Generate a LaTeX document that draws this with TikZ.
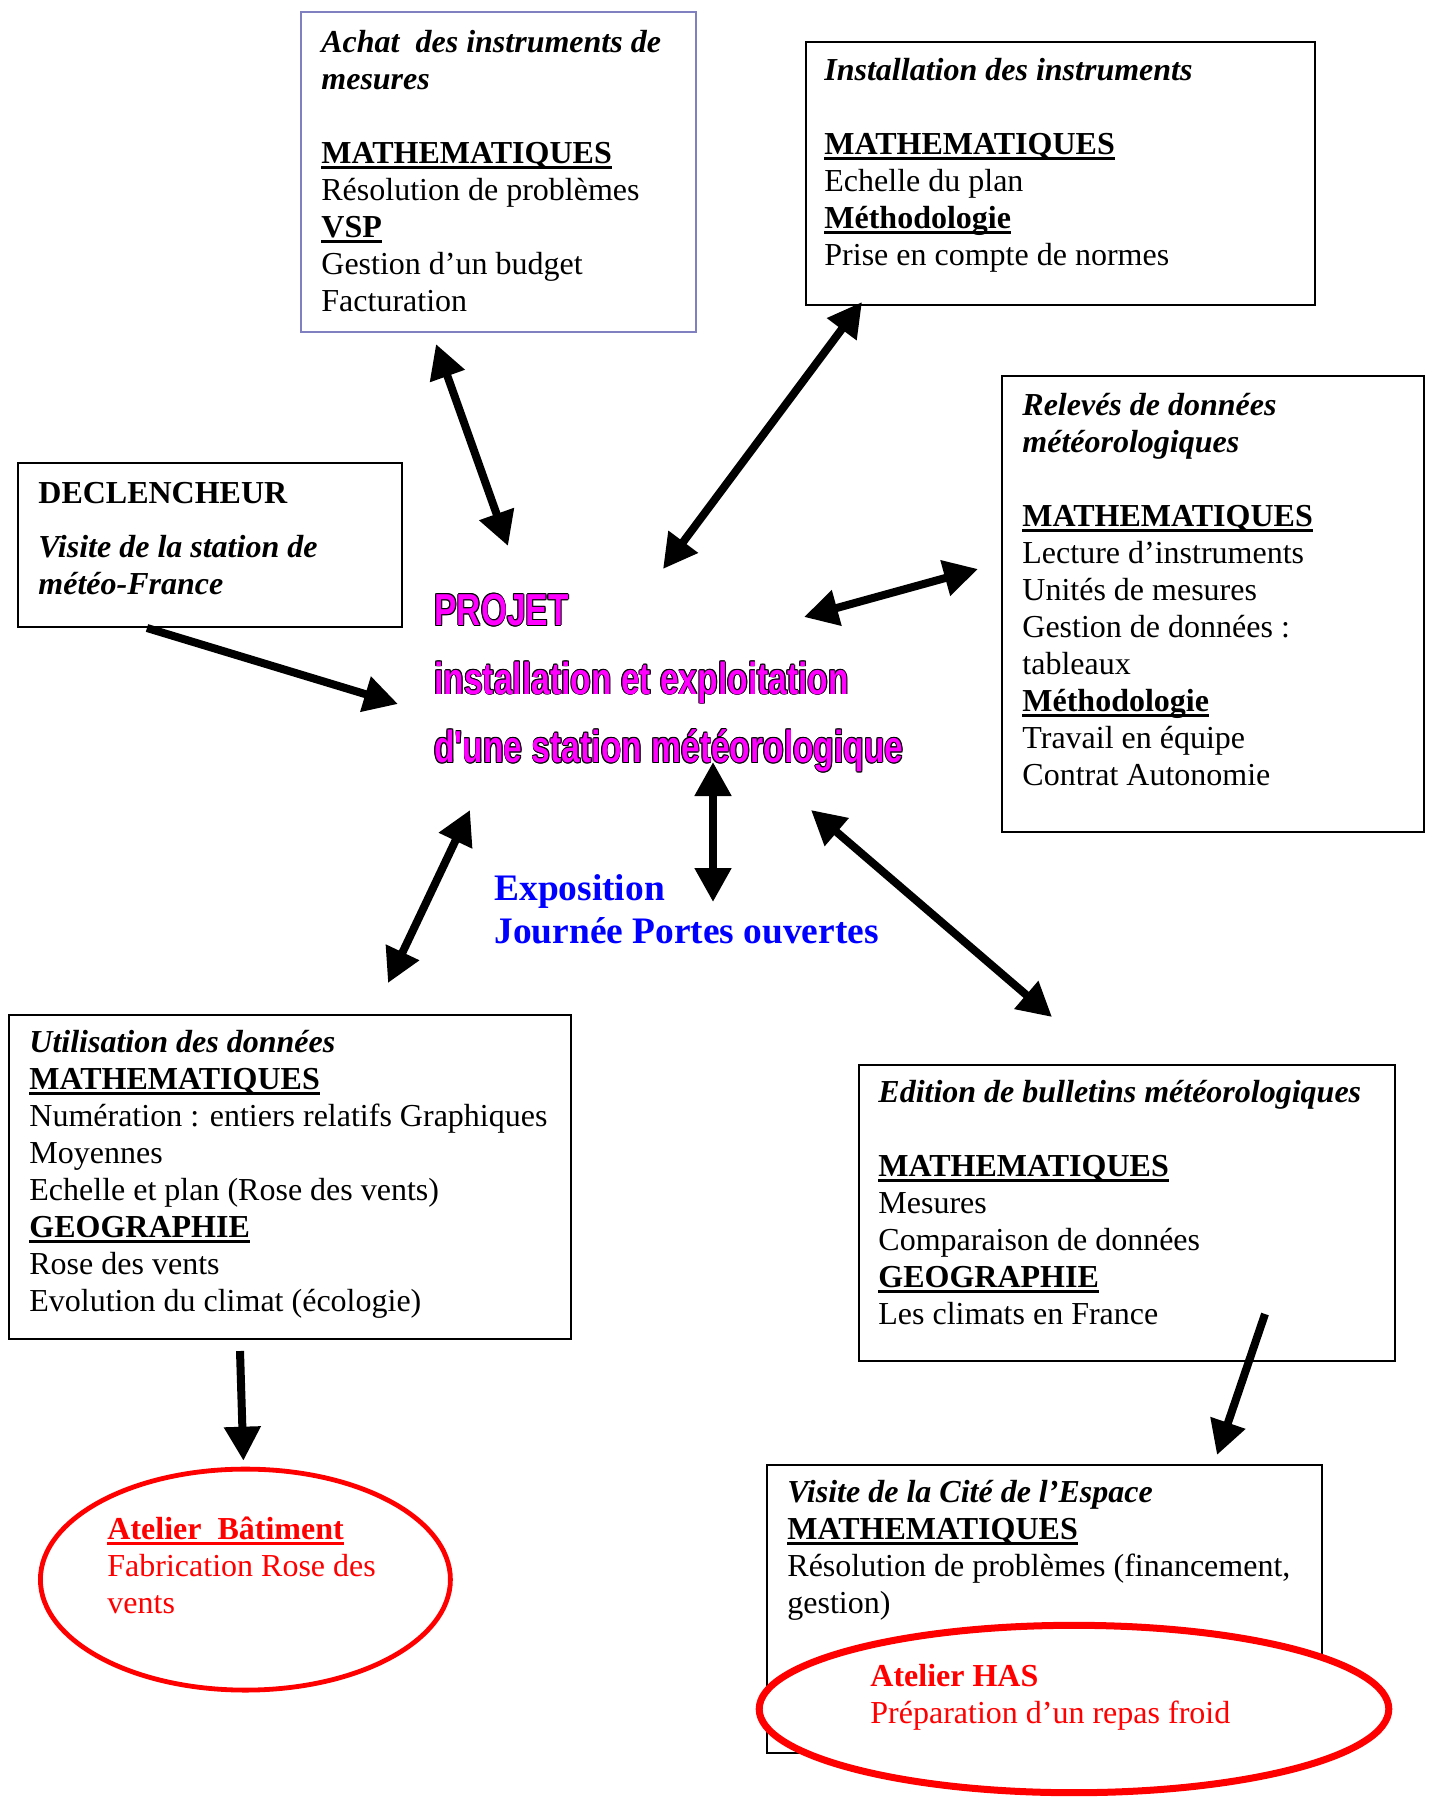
\documentclass[tikz,border=0pt]{standalone}
\usepackage{fontspec}
\setmainfont{Liberation Serif}
\newfontfamily\projfont[FakeStretch=0.75]{Liberation Sans}
\usetikzlibrary{arrows.meta,shapes.geometric}
\definecolor{lavande}{RGB}{128,128,192}
\definecolor{rose}{RGB}{255,0,255}
\newlength{\larg}
\newcommand{\souligne}[1]{\settowidth{\larg}{#1}\rlap{\rule[-2.8pt]{\larg}{1.4pt}}#1}
\newcommand{\hd}[1]{\textbf{\souligne{#1}}}
\newcommand{\ti}[1]{\textbf{\textit{#1}}}
\newcommand{\haut}{\rule{0pt}{12pt}}
\newcommand{\copie}[3]{\rlap{\hspace*{#1}\raisebox{#2}{\textcolor{black}{#3}}}}
\newcommand{\proj}[1]{\leavevmode\copie{0.45pt}{0pt}{#1}\copie{-0.45pt}{0pt}{#1}\copie{0pt}{0.45pt}{#1}\copie{0pt}{-0.45pt}{#1}%
	\copie{0.32pt}{0.32pt}{#1}\copie{-0.32pt}{0.32pt}{#1}\copie{0.32pt}{-0.32pt}{#1}\copie{-0.32pt}{-0.32pt}{#1}\textcolor{rose}{#1}}

\begin{document}
\begin{tikzpicture}[x=0.5pt,y=-0.5pt,
	cadre/.style={draw, line width=1pt, inner sep=0pt, anchor=north west},
	texte/.style={anchor=north west, inner sep=0pt, align=left, font=\fontsize{16}{18.5}\selectfont},
	bulle/.style={ellipse, draw=red, fill=white, inner sep=0pt},
	deux/.style={{Triangle[length=17pt,width=17.5pt]}-{Triangle[length=17pt,width=17.5pt]}, line width=4pt},
	une/.style={-{Triangle[length=17pt,width=17.5pt]}, line width=4pt}]
	%%%%% START %%%%%
	\useasboundingbox (0,0) rectangle (1430,1798);
	
	% centre
	\node[anchor=north west, inner sep=0pt, align=left, font=\projfont\bfseries\fontsize{22.4}{34.25}\selectfont] (projet) at (434,593)
		{\proj{PROJET}\\ \proj{installation et exploitation}\\ \proj{d'une station m\'et\'eorologique}};
	\node[texte, font=\bfseries\fontsize{18.7}{21.4}\selectfont, text=blue] (expo) at (494,872)
		{\rule{0pt}{14pt}Exposition\\ Journ\'ee Portes ouvertes};
	
	% cadres
	\node[cadre, draw=lavande, minimum width=197.5pt, minimum height=160pt] (achat) at (300,11) {};
	\node[texte] (achatT) at ([shift={(21,17)}]achat.north west)
		{\haut\ti{Achat\ \ des instruments de}\\ \ti{mesures}\\[18.5pt] \hd{MATHEMATIQUES}\\ R\'esolution de probl\`emes\\ \hd{VSP}\\ Gestion d’un budget\\ Facturation};
	
	\node[cadre, minimum width=254.5pt, minimum height=131.5pt] (install) at (805,41) {};
	\node[texte] (installT) at ([shift={(19,15)}]install.north west)
		{\haut\ti{Installation des instruments}\\[18.5pt] \hd{MATHEMATIQUES}\\ Echelle du plan\\ \hd{M\'ethodologie}\\ Prise en compte de normes};
	
	\node[cadre, minimum width=211pt, minimum height=228pt] (releves) at (1001,375) {};
	\node[texte] (relevesT) at ([shift={(21,16)}]releves.north west)
		{\haut\ti{Relev\'es de donn\'ees}\\ \ti{m\'et\'eorologiques}\\[18.5pt] \hd{MATHEMATIQUES}\\ Lecture d’instruments\\ Unit\'es de mesures\\ Gestion de donn\'ees :\\ tableaux\\ \hd{M\'ethodologie}\\ Travail en \'equipe\\ Contrat Autonomie};
	
	\node[cadre, minimum width=192pt, minimum height=82pt] (declic) at (17,462) {};
	\node[texte] (declicT) at ([shift={(21,17)}]declic.north west)
		{\haut\textbf{DECLENCHEUR}\\[8.5pt] \ti{Visite de la station de}\\ \ti{m\'et\'eo-France}};
	
	\node[cadre, minimum width=281pt, minimum height=162pt] (utilis) at (8,1014) {};
	\node[texte] (utilisT) at ([shift={(21,14)}]utilis.north west)
		{\haut\ti{Utilisation des donn\'ees}\\ \hd{MATHEMATIQUES}\\ Num\'eration : entiers relatifs Graphiques\\ Moyennes\\ Echelle et plan (Rose des vents)\\ \hd{GEOGRAPHIE}\\ Rose des vents\\ Evolution du climat (\'ecologie)};
	
	\node[cadre, minimum width=268pt, minimum height=148pt] (edition) at (858,1064) {};
	\node[texte] (editionT) at ([shift={(20,14)}]edition.north west)
		{\haut\ti{Edition de bulletins m\'et\'eorologiques}\\[18.5pt] \hd{MATHEMATIQUES}\\ Mesures\\ Comparaison de donn\'ees\\ \hd{GEOGRAPHIE}\\ Les climats en France};
	
	\node[cadre, minimum width=277.5pt, minimum height=144pt] (cite) at (766,1464) {};
	\node[texte] (citeT) at ([shift={(21,14)}]cite.north west)
		{\haut\ti{Visite de la Cit\'e de l’Espace}\\ \hd{MATHEMATIQUES}\\ R\'esolution de probl\`emes (financement,\\ gestion)};
	
	% ateliers
	\node[bulle, line width=2.4pt, minimum width=205pt, minimum height=110.5pt] (bat) at (245.4,1579.6) {};
	\node[texte, text=red] (batT) at ([shift={(-138.4,-64.6)}]bat.center)
		{\haut\textbf{\souligne{Atelier\ \ B\^atiment}}\\ Fabrication Rose des\\ vents};
	
	\node[bulle, line width=3.5pt, minimum width=314.8pt, minimum height=83.7pt] (has) at (1074,1709) {};
	\node[texte, text=red] (hasT) at ([shift={(-204,-47)}]has.center)
		{\haut\textbf{Atelier HAS}\\ Pr\'eparation d’un repas froid};
	
	% fleches
	\coordinate (a1) at ([shift={(136,11)}]achat.south west);
	\coordinate (p1) at ([shift={(74,-47)}]projet.north west);
	\coordinate (i1) at ([shift={(57,-4)}]install.south west);
	\coordinate (p2) at ([shift={(229,-24)}]projet.north west);
	\coordinate (r1) at ([shift={(-23,194)}]releves.north west);
	\coordinate (p3) at ([shift={(370,24)}]projet.north west);
	\coordinate (d1) at ([shift={(130,0)}]declic.south west);
	\coordinate (p4) at ([shift={(-36,111)}]projet.north west);
	\coordinate (u1) at ([shift={(380,-31)}]utilis.north west);
	\coordinate (p5) at ([shift={(36,217)}]projet.north west);
	\coordinate (x1) at ([shift={(219,30)}]expo.north west);
	\coordinate (p6) at ([shift={(279,169)}]projet.north west);
	\coordinate (e1) at ([shift={(194,-47)}]edition.north west);
	\coordinate (p7) at ([shift={(377,217)}]projet.north west);
	\coordinate (u2) at ([shift={(232,11)}]utilis.south west);
	\coordinate (b1) at ([shift={(-2,-6)}]bat.north);
	\coordinate (e2) at ([shift={(407,-48)}]edition.south west);
	\coordinate (c1) at ([shift={(451,-9)}]cite.north west);
	
	\draw[deux] (a1) -- (p1);
	\draw[deux] (i1) -- (p2);
	\draw[deux] (r1) -- (p3);
	\draw[une] (d1) -- (p4);
	\draw[deux] (u1) -- (p5);
	\draw[deux] (x1) -- (p6);
	\draw[deux] (e1) -- (p7);
	\draw[une] (u2) -- (b1);
	\draw[une] (e2) -- (c1);
	%%%%% END %%%%%
\end{tikzpicture}
\end{document}
